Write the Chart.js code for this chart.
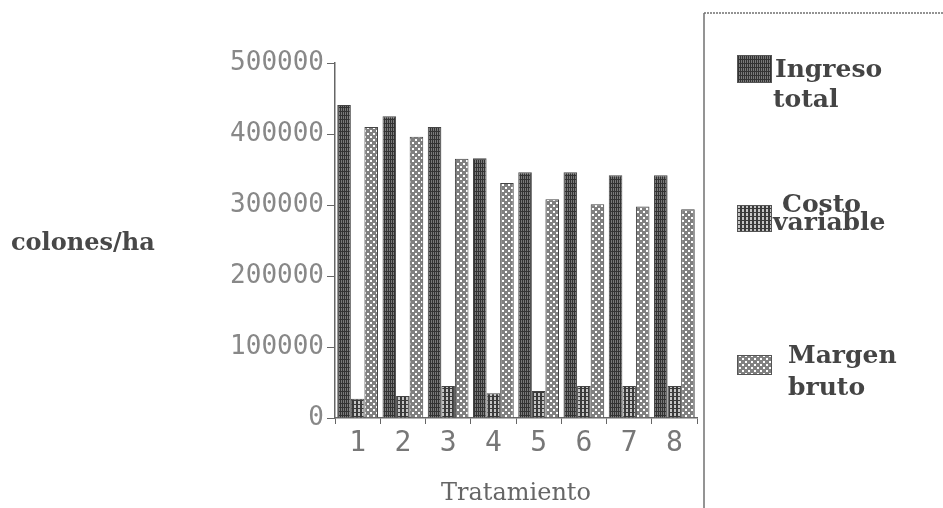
<!DOCTYPE html>
<html>
<head>
<meta charset="utf-8">
<title>Ingreso, costo y margen por tratamiento</title>
<script src="https://cdn.jsdelivr.net/npm/chart.js@4/dist/chart.umd.min.js"></script>
<style>
  html, body { margin: 0; padding: 0; background: #fff; }
  #wrap { width: 943px; height: 508px; }
</style>
</head>
<body>
<div id="wrap"><canvas id="grafico" width="943" height="508"></canvas></div>
<script>
// DATOS (colones/ha)
const tratamientos = ['1', '2', '3', '4', '5', '6', '7', '8'];
const ingresoTotal = [441000, 425000, 410000, 366000, 346000, 346000, 342000, 342000];
const costoVariable = [27000, 31000, 45000, 35000, 38000, 45000, 45000, 45000];
const margenBruto = [410000, 396000, 365000, 331000, 308000, 301000, 298000, 294000];
const serieNombres = [['Ingreso', 'total'], ['Costo', 'variable'], ['Margen', 'bruto']];
const yMin = 0;
const yMax = 500000;
const yPaso = 100000;
const tituloX = 'Tratamiento';
const tituloY = 'colones/ha';

// TRAMAS DE GRISES (como la impresora de matriz de puntos)
function trama(size, fondo, pintar) {
    const c = document.createElement('canvas');
    c.width = size; c.height = size;
    const g = c.getContext('2d');
    g.fillStyle = fondo;
    g.fillRect(0, 0, size, size);
    pintar(g);
    return g.createPattern(c, 'repeat');
}

const tramaIngreso = trama(4, '#7a7a7a', g => {
    g.fillStyle = '#333333';
    g.fillRect(0, 0, 1, 4);
    g.fillRect(2, 0, 1, 4);
    g.fillRect(0, 3, 4, 1);
});
const tramaCosto = trama(4, '#c4c4c4', g => {
    g.fillStyle = '#3a3a3a';
    g.fillRect(0, 0, 2, 4);
    g.fillRect(0, 0, 4, 1);
});
const tramaMargen = trama(6, '#808080', g => {
    g.fillStyle = '#ffffff';
    g.fillRect(1, 1, 2, 2);
    g.fillRect(4, 4, 2, 2);
});
const tramas = [tramaIngreso, tramaCosto, tramaMargen];

// LEYENDA LATERAL Y TITULO DEL EJE Y
const leyendaLateral = {
    id: 'leyendaLateral',
    afterDraw(chart) {
        const ctx = chart.ctx;
        ctx.save();

        // marco de la leyenda
        ctx.strokeStyle = '#707070';
        ctx.lineWidth = 1.5;
        ctx.setLineDash([2, 1]);
        ctx.beginPath();
        ctx.moveTo(704, 13);
        ctx.lineTo(943, 13);
        ctx.stroke();
        ctx.setLineDash([]);
        ctx.beginPath();
        ctx.moveTo(704, 13);
        ctx.lineTo(704, 508);
        ctx.stroke();

        ctx.fillStyle = '#484848';
        ctx.textBaseline = 'alphabetic';
        ctx.textAlign = 'left';
        ctx.font = 'bold 24px "DejaVu Serif"';
        ctx.fillText(tituloY, 11, 250);

        const cajas = [
            { box: [737, 55, 35, 28], lineas: [[775, 77], [773, 107]] },
            { box: [737, 205, 35, 27], lineas: [[782, 212], [773, 230]] },
            { box: [737, 355, 35, 20], lineas: [[788, 363], [788, 395]] }
        ];
        ctx.font = 'bold 25px "DejaVu Serif"';
        chart.data.datasets.forEach((ds, i) => {
            const c = cajas[i];
            ctx.fillStyle = ds.backgroundColor;
            ctx.fillRect(c.box[0], c.box[1], c.box[2], c.box[3]);
            ctx.strokeStyle = '#555';
            ctx.lineWidth = 1;
            ctx.strokeRect(c.box[0] + 0.5, c.box[1] + 0.5, c.box[2] - 1, c.box[3] - 1);
            ctx.fillStyle = '#444';
            ds.label.forEach((txt, j) => ctx.fillText(txt, c.lineas[j][0], c.lineas[j][1]));
        });
        ctx.restore();
    }
};

const conjuntos = [ingresoTotal, costoVariable, margenBruto].map((datos, i) => ({
    label: serieNombres[i],
    data: datos,
    backgroundColor: tramas[i],
    borderColor: '#444',
    borderWidth: 1,
    barPercentage: 1,
    categoryPercentage: 0.9
}));

new Chart(document.getElementById('grafico'), {
    type: 'bar',
    data: { labels: tratamientos, datasets: conjuntos },
    options: {
        responsive: false,
        animation: false,
        devicePixelRatio: 1,
        layout: { padding: { left: 0, right: 246, top: 63, bottom: 0 } },
        plugins: {
            legend: { display: false },
            tooltip: { enabled: false }
        },
        scales: {
            x: {
                afterFit: s => { s.height = 90; },
                border: { color: '#666', width: 1.5 },
                grid: { offset: true, drawOnChartArea: false, tickLength: 6, color: '#666' },
                ticks: {
                    color: '#777',
                    padding: 3,
                    font: { family: '"DejaVu Sans Mono"', size: 28 }
                },
                title: {
                    display: true,
                    text: tituloX,
                    color: '#666',
                    padding: { top: 0, bottom: 0 },
                    font: { family: '"DejaVu Serif"', size: 24 }
                }
            },
            y: {
                min: yMin,
                max: yMax,
                afterFit: s => { s.width = 335; },
                border: { color: '#666', width: 1.5 },
                grid: { drawOnChartArea: false, tickLength: 8, color: '#666' },
                ticks: {
                    stepSize: yPaso,
                    color: '#888',
                    padding: 3,
                    callback: v => String(v),
                    font: { family: '"DejaVu Sans Mono"', size: 26 }
                }
            }
        }
    },
    plugins: [leyendaLateral]
});
</script>
</body>
</html>
